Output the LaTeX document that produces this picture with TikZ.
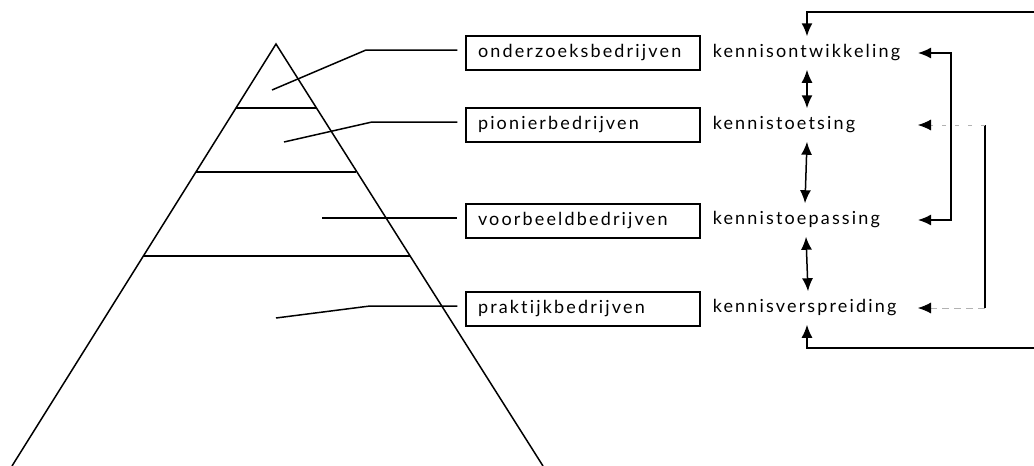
\documentclass[tikz,border=0pt]{standalone}
\usepackage{fontspec}
\setmainfont{Lato}[LetterSpace=12, Ligatures={NoCommon}]
\usetikzlibrary{arrows.meta,calc}
\tikzset{
    firm/.style={draw, line width=1.2pt, text width=210pt, inner xsep=12pt, minimum height=34pt, align=left, font=\fontsize{18}{20}\selectfont},
    stage/.style={anchor=west, minimum height=32pt, inner xsep=0pt, font=\fontsize{18}{20}\selectfont},
    tip/.style={-{Latex[length=13pt,width=11pt]}},
    dbl/.style={{Latex[length=13pt,width=11pt]}-{Latex[length=13pt,width=11pt]}},
    hint/.style={gray!60, line width=0.8pt, -{Latex[length=13pt,width=11pt,color=black]}},
}
\begin{document}
\begin{tikzpicture}[x=1pt, y=-1pt, line width=1.5pt]
    \useasboundingbox (0,0) rectangle (1034,466);
    % pyramid
    \draw (12,466) -- (276,44) -- (543,466);
    \draw (236,108) -- (317,108);
    \draw (196,172) -- (356,172);
    \draw (143,256) -- (410,256);

    % firms
    \node[firm] (b1) at (583,53) {onderzoeksbedrijven};
    \node[firm] (b2) at (583,125) {pionierbedrijven};
    \node[firm] (b3) at (583,221) {voorbeeldbedrijven};
    \node[firm] (b4) at (583,309) {praktijkbedrijven};

    % leaders
    \coordinate (l1) at (366,50);
    \coordinate (l2) at (372,122);
    \coordinate (l3) at (322,218);
    \coordinate (l4) at (370,306);
    \draw (272,90) -- (l1) -- ($(l1 -| b1.west)+(-8,0)$);
    \draw (284,142) -- (l2) -- ($(l2 -| b2.west)+(-8,0)$);
    \draw (l3) -- ($(l3 -| b3.west)+(-8,0)$);
    \draw (276,318) -- (l4) -- ($(l4 -| b4.west)+(-8,0)$);

    % stages
    \node[stage] (ko) at (712,53) {kennisontwikkeling};
    \node[stage] (kt) at (712,125) {kennistoetsing};
    \node[stage] (kp) at (712,220) {kennistoepassing};
    \node[stage] (kv) at (712,308) {kennisverspreiding};

    \coordinate (col) at (807,0);
    \coordinate (head) at (918,0);
    \coordinate (rb) at (951,0);
    \coordinate (db) at (985,0);
    \coordinate (top) at (1034,12);
    \coordinate (bot) at (1034,348);

    \draw[dbl] (ko.south -| col) -- (kt.north -| col);
    \draw[dbl] (kt.south -| col) -- ($(kp.north -| col)+(-2,0)$);
    \draw[dbl] ($(kp.south -| col)+(-1,0)$) -- ($(kv.north -| col)+(1,0)$);

    % loops
    \draw[tip] (top) -| (ko.north -| col);
    \draw[tip] (bot) -| (kv.south -| col);
    \draw[dbl] (head |- ko) -| (rb |- kp) -- (head |- kp);
    \draw (db |- kt) -- (db |- kv);
    \draw[hint, dash pattern=on 4pt off 9pt] (db |- kt) -- (head |- kt);
    \draw[hint, dash pattern=on 7pt off 5pt] (db |- kv) -- (head |- kv);
\end{tikzpicture}
\end{document}
